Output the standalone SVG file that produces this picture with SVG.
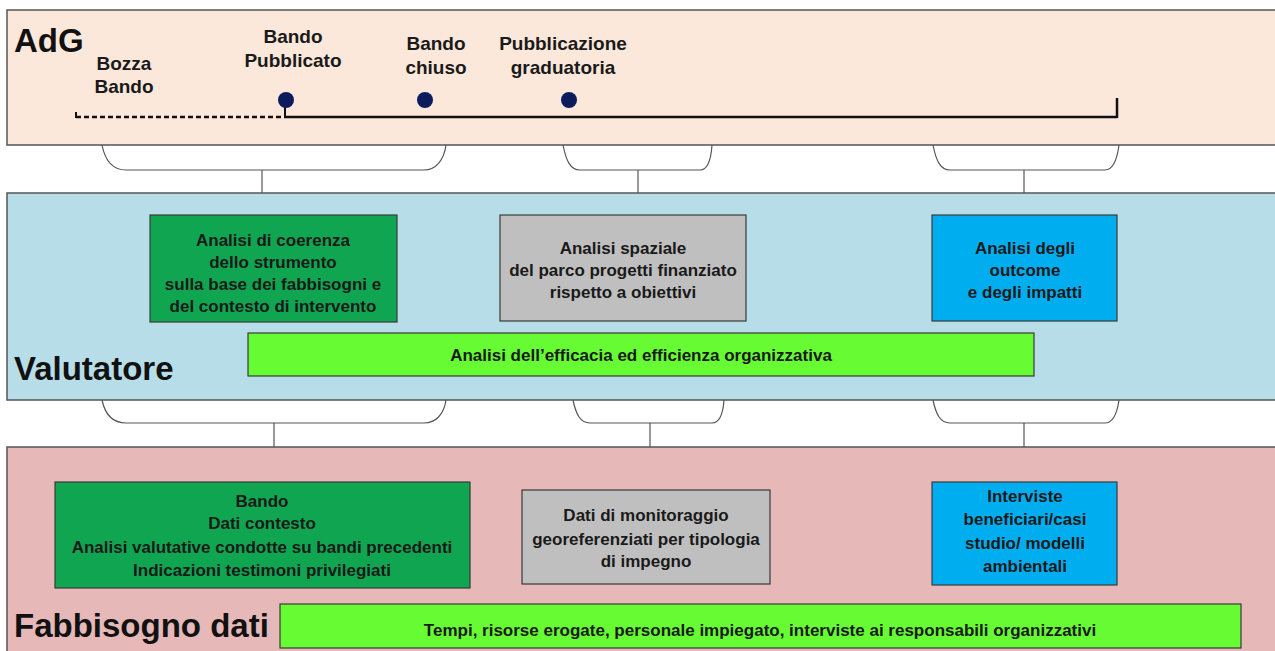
<svg xmlns="http://www.w3.org/2000/svg" width="1275" height="651" viewBox="0 0 1275 651">
<style>
.band{stroke:#555;stroke-width:1.5}
.box{stroke:#3a3a3a;stroke-width:1.2}
.t{font-family:"Liberation Sans",Arial,sans-serif;font-weight:700;font-size:17px;fill:#1a1a1a;text-anchor:middle}
.lbl{font-family:"Liberation Sans",Arial,sans-serif;font-weight:700;font-size:19px;fill:#1a1a1a;text-anchor:middle}
.big{font-family:"Liberation Sans",Arial,sans-serif;font-weight:700;font-size:33px;fill:#111}
.br{fill:none;stroke:#555;stroke-width:1.2}
.dot{fill:#0d1a5c}
</style>
<rect width="1275" height="651" fill="#ffffff"/>
<g id="band-adg">
<rect class="band" x="7" y="10" width="1280" height="135" fill="#fbe8da"/>
<text class="big" x="14" y="52">AdG</text>
</g>
<g id="band-valutatore">
<rect class="band" x="7" y="193" width="1280" height="207" fill="#b7dde8"/>
<text class="big" x="14" y="380">Valutatore</text>
</g>
<g id="band-fabbisogno">
<rect class="band" x="7" y="447" width="1280" height="210" fill="#e6b9b8"/>
<text class="big" x="14" y="637">Fabbisogno dati</text>
</g>
<g id="timeline">
<line x1="76" y1="117" x2="285" y2="117" stroke="#111" stroke-width="2.5" stroke-dasharray="5,3"/>
<line x1="76" y1="112" x2="76" y2="118" stroke="#111" stroke-width="2"/>
<line x1="285" y1="117" x2="1117" y2="117" stroke="#111" stroke-width="2.5"/>
<line x1="1117" y1="98" x2="1117" y2="118" stroke="#111" stroke-width="2.5"/>
<line x1="285" y1="104" x2="285" y2="117" stroke="#111" stroke-width="2"/>
</g>
<g id="m-bozza"><text class="lbl" x="124" y="70">Bozza</text><text class="lbl" x="124" y="93">Bando</text></g>
<g id="m-pubblicato"><circle class="dot" cx="286" cy="100" r="8"/><text class="lbl" x="293" y="43">Bando</text><text class="lbl" x="293" y="67">Pubblicato</text></g>
<g id="m-chiuso"><circle class="dot" cx="425" cy="100" r="8"/><text class="lbl" x="436" y="50">Bando</text><text class="lbl" x="436" y="74">chiuso</text></g>
<g id="m-graduatoria"><circle class="dot" cx="569" cy="100" r="8"/><text class="lbl" x="563" y="50">Pubblicazione</text><text class="lbl" x="563" y="74">graduatoria</text></g>
<g id="connectors">
<path class="br" d="M102,145 C105,160 112,170 126,170 L424,170 C436,170 444,160 446,145"/>
<line class="br" x1="262" y1="170" x2="262" y2="193"/>
<path class="br" d="M563,145 C566,160 570,170 580,170 L700,170 C707,170 711,160 712,145"/>
<line class="br" x1="638" y1="170" x2="638" y2="193"/>
<path class="br" d="M933,145 C936,160 940,170 950,170 L1105,170 C1113,170 1117,160 1119,145"/>
<line class="br" x1="1024" y1="170" x2="1024" y2="193"/>
<path class="br" d="M102,400 C105,414 112,423 126,423 L424,423 C436,423 444,414 446,400"/>
<line class="br" x1="274" y1="423" x2="274" y2="447"/>
<path class="br" d="M573,400 C576,414 580,423 590,423 L712,423 C719,423 723,414 724,400"/>
<line class="br" x1="650" y1="423" x2="650" y2="447"/>
<path class="br" d="M933,400 C936,414 940,423 950,423 L1105,423 C1113,423 1117,414 1119,400"/>
<line class="br" x1="1024" y1="423" x2="1024" y2="447"/>
</g>
<g id="v-coerenza">
<rect class="box" x="150" y="215" width="247" height="107" fill="#10a550"/>
<text class="t" x="273" y="246">Analisi di coerenza</text>
<text class="t" x="273" y="268">dello strumento</text>
<text class="t" x="273" y="290">sulla base dei fabbisogni e</text>
<text class="t" x="273" y="312">del contesto di intervento</text>
</g>
<g id="v-spaziale">
<rect class="box" x="500" y="215" width="246" height="106" fill="#bfbfbf"/>
<text class="t" x="623" y="254">Analisi spaziale</text>
<text class="t" x="623" y="276">del parco progetti finanziato</text>
<text class="t" x="623" y="298">rispetto a obiettivi</text>
</g>
<g id="v-outcome">
<rect class="box" x="932" y="215" width="185" height="106" fill="#00aeef"/>
<text class="t" x="1025" y="254">Analisi degli</text>
<text class="t" x="1025" y="276">outcome</text>
<text class="t" x="1025" y="298">e degli impatti</text>
</g>
<g id="v-efficacia">
<rect class="box" x="248" y="333" width="786" height="43" fill="#66fb33"/>
<text class="t" x="641" y="361">Analisi dell’efficacia ed efficienza organizzativa</text>
</g>
<g id="f-bando">
<rect class="box" x="55" y="482" width="415" height="106" fill="#10a550"/>
<text class="t" x="262" y="507">Bando</text>
<text class="t" x="262" y="529">Dati contesto</text>
<text class="t" x="262" y="553">Analisi valutative condotte su bandi precedenti</text>
<text class="t" x="262" y="576">Indicazioni testimoni privilegiati</text>
</g>
<g id="f-monitoraggio">
<rect class="box" x="522" y="490" width="248" height="94" fill="#bfbfbf"/>
<text class="t" x="646" y="521">Dati di monitoraggio</text>
<text class="t" x="646" y="545">georeferenziati per tipologia</text>
<text class="t" x="646" y="567">di impegno</text>
</g>
<g id="f-interviste">
<rect class="box" x="932" y="482" width="185" height="103" fill="#00aeef"/>
<text class="t" x="1025" y="502">Interviste</text>
<text class="t" x="1025" y="525">beneficiari/casi</text>
<text class="t" x="1025" y="549">studio/ modelli</text>
<text class="t" x="1025" y="572">ambientali</text>
</g>
<g id="f-tempi">
<rect class="box" x="280" y="604" width="961" height="44" fill="#66fb33"/>
<text class="t" x="760" y="636">Tempi, risorse erogate, personale impiegato, interviste ai responsabili organizzativi</text>
</g>
</svg>
